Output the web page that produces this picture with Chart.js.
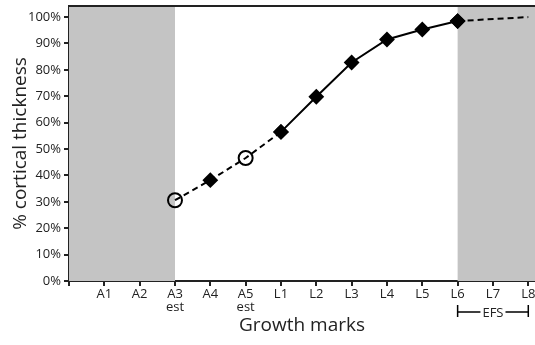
<!DOCTYPE html>
<html>
<head>
<meta charset="utf-8">
<script src="https://cdn.jsdelivr.net/npm/chart.js@4/dist/chart.umd.min.js"></script>
<style>
  html, body { margin: 0; padding: 0; background: #fff; }
  #wrap { width: 535px; height: 345px; }
</style>
</head>
<body>
<div id="wrap"><canvas id="myChart"></canvas></div>
<script>
// Growth mark labels by position on the x axis (index 0 is the axis origin)
var markLabels = ["", "A1", "A2", "A3", "A4", "A5", "L1", "L2", "L3", "L4", "L5", "L6", "L7", "L8"];
var markSubLabels = { 3: "est", 5: "est" };

// % cortical thickness at each mark
var estimatedPart = [[3, 30.6], [4, 38.2], [5, 46.6], [6, 56.5]];
var measuredPart = [[6, 56.5], [7, 69.8], [8, 82.8], [9, 91.5], [10, 95.3], [11, 98.5]];
var efsPart = [[11, 98.5], [13, 100]];
var estimatedMarks = [3, 5]; // open circles

// shaded ranges (x index) and EFS bracket
var shadedRanges = [[0, 3], [11, 14]];
var efsRange = [11, 13];

var yTicks = [0, 10, 20, 30, 40, 50, 60, 70, 80, 90, 100];

function toPoints(arr) {
  return arr.map(p => ({ x: p[0], y: p[1] }));
}

function pointStyleFor(ctx) {
  return estimatedMarks.indexOf(ctx.raw.x) >= 0 ? "circle" : "rectRot";
}
function pointRadiusFor(ctx) {
  return estimatedMarks.indexOf(ctx.raw.x) >= 0 ? 7 : 6.5;
}
function pointFillFor(ctx) {
  return estimatedMarks.indexOf(ctx.raw.x) >= 0 ? "rgba(0,0,0,0)" : "#000";
}

// gray background bands, top border and EFS bracket
var shadePlugin = {
  id: "shade",
  beforeDatasetsDraw(chart) {
    var c = chart.ctx, a = chart.chartArea, xs = chart.scales.x;
    c.save();
    c.fillStyle = "#c4c4c4";
    shadedRanges.forEach(r => {
      var x0 = Math.max(a.left, xs.getPixelForValue(r[0]));
      var x1 = Math.min(a.right, xs.getPixelForValue(r[1]));
      c.fillRect(x0, a.top, x1 - x0, a.bottom - a.top);
    });
    c.restore();
  },
  afterDraw(chart) {
    var c = chart.ctx, a = chart.chartArea, xs = chart.scales.x;
    c.save();
    c.strokeStyle = "#222";
    c.lineWidth = 2;
    c.beginPath();
    c.moveTo(a.left, a.top);
    c.lineTo(a.right, a.top);
    c.stroke();

    var x0 = xs.getPixelForValue(efsRange[0]);
    var x1 = xs.getPixelForValue(efsRange[1]);
    var y = a.bottom + 31;
    c.font = "13px 'Open Sans'";
    var tw = c.measureText("EFS").width;
    var mid = (x0 + x1) / 2;
    c.lineWidth = 1.5;
    c.strokeStyle = "#000";
    c.beginPath();
    c.moveTo(x0, y - 7); c.lineTo(x0, y + 5);
    c.moveTo(x1, y - 7); c.lineTo(x1, y + 5);
    c.moveTo(x0, y); c.lineTo(mid - tw / 2 - 2, y);
    c.moveTo(mid + tw / 2 + 2, y); c.lineTo(x1, y);
    c.stroke();
    c.fillStyle = "#222";
    c.textAlign = "center";
    c.textBaseline = "middle";
    c.fillText("EFS", mid, y + 1);
    c.restore();
  }
};

var lineCommon = {
  borderColor: "#000",
  borderWidth: 2,
  tension: 0,
  pointStyle: pointStyleFor,
  pointRadius: pointRadiusFor,
  pointBackgroundColor: pointFillFor,
  pointBorderColor: "#000",
  pointBorderWidth: 2,
  fill: false
};

var ctx = document.getElementById("myChart").getContext("2d");
var myChart = new Chart(ctx, {
  type: "line",
  data: {
    datasets: [
      Object.assign({}, lineCommon, { data: toPoints(estimatedPart), borderDash: [6, 4] }),
      Object.assign({}, lineCommon, { data: toPoints(measuredPart) }),
      Object.assign({}, lineCommon, { data: toPoints(efsPart), borderDash: [6, 4],
        pointRadius: ctx => (ctx.raw.x === 13 ? 0 : 6.5) })
    ]
  },
  options: {
    responsive: true,
    maintainAspectRatio: false,
    animation: false,
    layout: { autoPadding: false, padding: { top: 6, right: 0, bottom: 0, left: 0 } },
    plugins: { legend: { display: false }, tooltip: { enabled: false } },
    scales: {
      x: {
        type: "linear",
        min: 0,
        max: 13.19,
        afterBuildTicks(scale) {
          scale.ticks = markLabels.map((l, i) => ({ value: i }));
        },
        afterFit(scale) {
          scale.height = 64;
          scale.paddingLeft = 0;
          scale.paddingRight = 0;
        },
        ticks: {
          autoSkip: false,
          maxRotation: 0,
          padding: 1,
          color: "#222",
          font: { family: "Open Sans", size: 13, lineHeight: 1.05 },
          callback: function (v) {
            var l = markLabels[v];
            return markSubLabels[v] ? [l, markSubLabels[v]] : l;
          }
        },
        grid: { drawOnChartArea: false, tickLength: 5, color: "#222", lineWidth: 2 },
        border: { color: "#222", width: 2 },
        title: {
          display: true,
          text: "Growth marks",
          color: "#222",
          font: { family: "Open Sans", size: 19 },
          padding: { bottom: 8 }
        }
      },
      y: {
        min: 0,
        max: 104.2,
        afterBuildTicks(scale) {
          scale.ticks = yTicks.map(v => ({ value: v }));
        },
        afterFit(scale) {
          scale.width = 69;
          scale.paddingTop = 0;
          scale.paddingBottom = 0;
        },
        ticks: {
          padding: 3,
          color: "#222",
          font: { family: "Open Sans", size: 13 },
          callback: v => v + "%"
        },
        grid: { drawOnChartArea: false, tickLength: 5, color: "#222", lineWidth: 2 },
        border: { color: "#222", width: 2 },
        title: {
          display: true,
          text: "% cortical thickness",
          color: "#222",
          font: { family: "Open Sans", size: 19 },
          padding: { top: 9 }
        }
      }
    }
  },
  plugins: [shadePlugin]
});
</script>
</body>
</html>
